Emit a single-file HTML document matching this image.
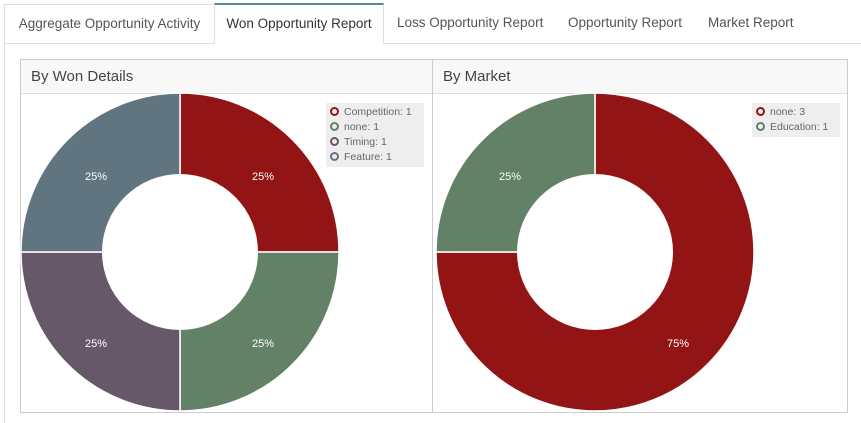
<!DOCTYPE html>
<html><head><style>
body{margin:0;width:861px;height:423px;background:#fff;font-family:"Liberation Sans",sans-serif;overflow:hidden;position:relative}
.tabs{position:absolute;left:4px;top:4px;right:0;height:39px;border-bottom:1px solid #ddd}
.tab{position:absolute;top:0;height:38px;line-height:38px;font-size:13.5px;color:#555;white-space:nowrap}
.t0{left:0;width:209px;border:1px solid #ddd;border-bottom:none;background:#fff;text-align:center}
.act{left:210px;width:168px;border:1px solid #ddd;border-top:2px solid #5a8a94;border-bottom:1px solid #fff;height:38px;top:-1px;color:#333;background:#fff;text-align:center}
.frame{position:absolute;left:4px;top:43px;width:860px;height:380px;border-left:1px solid #ddd}
.panel{position:absolute;top:59px;height:352px;border:1px solid #ccc}
.ph{height:33px;line-height:33px;padding-left:10px;font-size:15px;color:#444;background:#f8f8f8;border-bottom:1px solid #ddd}
.lg{position:absolute;background:#eee;font-size:10.5px;color:#666;padding:2px 4px}
.lg div{height:15px;line-height:15px}
.d{display:inline-block;width:5px;height:5px;border:2px solid;border-radius:50%;margin-right:5px;vertical-align:-1px}
</style></head><body>
<div class="frame"></div>
<div class="tabs">
<div class="tab t0">Aggregate Opportunity Activity</div>
<div class="tab act">Won Opportunity Report</div>
<div class="tab" style="left:393px">Loss Opportunity Report</div>
<div class="tab" style="left:564px">Opportunity Report</div>
<div class="tab" style="left:704px">Market Report</div>
</div>
<div class="panel" style="left:20px;width:411px"><div class="ph">By Won Details</div></div>
<div class="panel" style="left:432px;width:414px"><div class="ph">By Market</div></div>
<svg style="position:absolute;left:0;top:0" width="861" height="423">
<g stroke="#fff" stroke-width="1.5">
<path d="M180,93 A159,159 0 0 1 339,252 L180,252Z" fill="#931414"/>
<path d="M339,252 A159,159 0 0 1 180,411 L180,252Z" fill="#628166"/>
<path d="M180,411 A159,159 0 0 1 21,252 L180,252Z" fill="#665869"/>
<path d="M21,252 A159,159 0 0 1 180,93 L180,252Z" fill="#607580"/>
<circle cx="180" cy="252" r="78" fill="#fff" stroke="none"/>
<path d="M595,93 A159,159 0 1 1 436,252 L595,252Z" fill="#931414"/>
<path d="M436,252 A159,159 0 0 1 595,93 L595,252Z" fill="#628166"/>
<circle cx="595" cy="252" r="78" fill="#fff" stroke="none"/>
</g>
<g fill="#fff" font-size="11" text-anchor="middle" font-family="Liberation Sans">
<text x="263" y="180">25%</text><text x="263" y="347">25%</text>
<text x="96" y="347">25%</text><text x="96" y="180">25%</text>
<text x="510" y="180">25%</text><text x="678" y="347">75%</text>
</g>
</svg>
<div class="lg" style="left:326px;top:103px;width:90px">
<div><span class="d" style="border-color:#931414"></span>Competition: 1</div>
<div><span class="d" style="border-color:#628166"></span>none: 1</div>
<div><span class="d" style="border-color:#665869"></span>Timing: 1</div>
<div><span class="d" style="border-color:#607580"></span>Feature: 1</div>
</div>
<div class="lg" style="left:752px;top:103px;width:80px">
<div><span class="d" style="border-color:#931414"></span>none: 3</div>
<div><span class="d" style="border-color:#628166"></span>Education: 1</div>
</div>
</body></html>
